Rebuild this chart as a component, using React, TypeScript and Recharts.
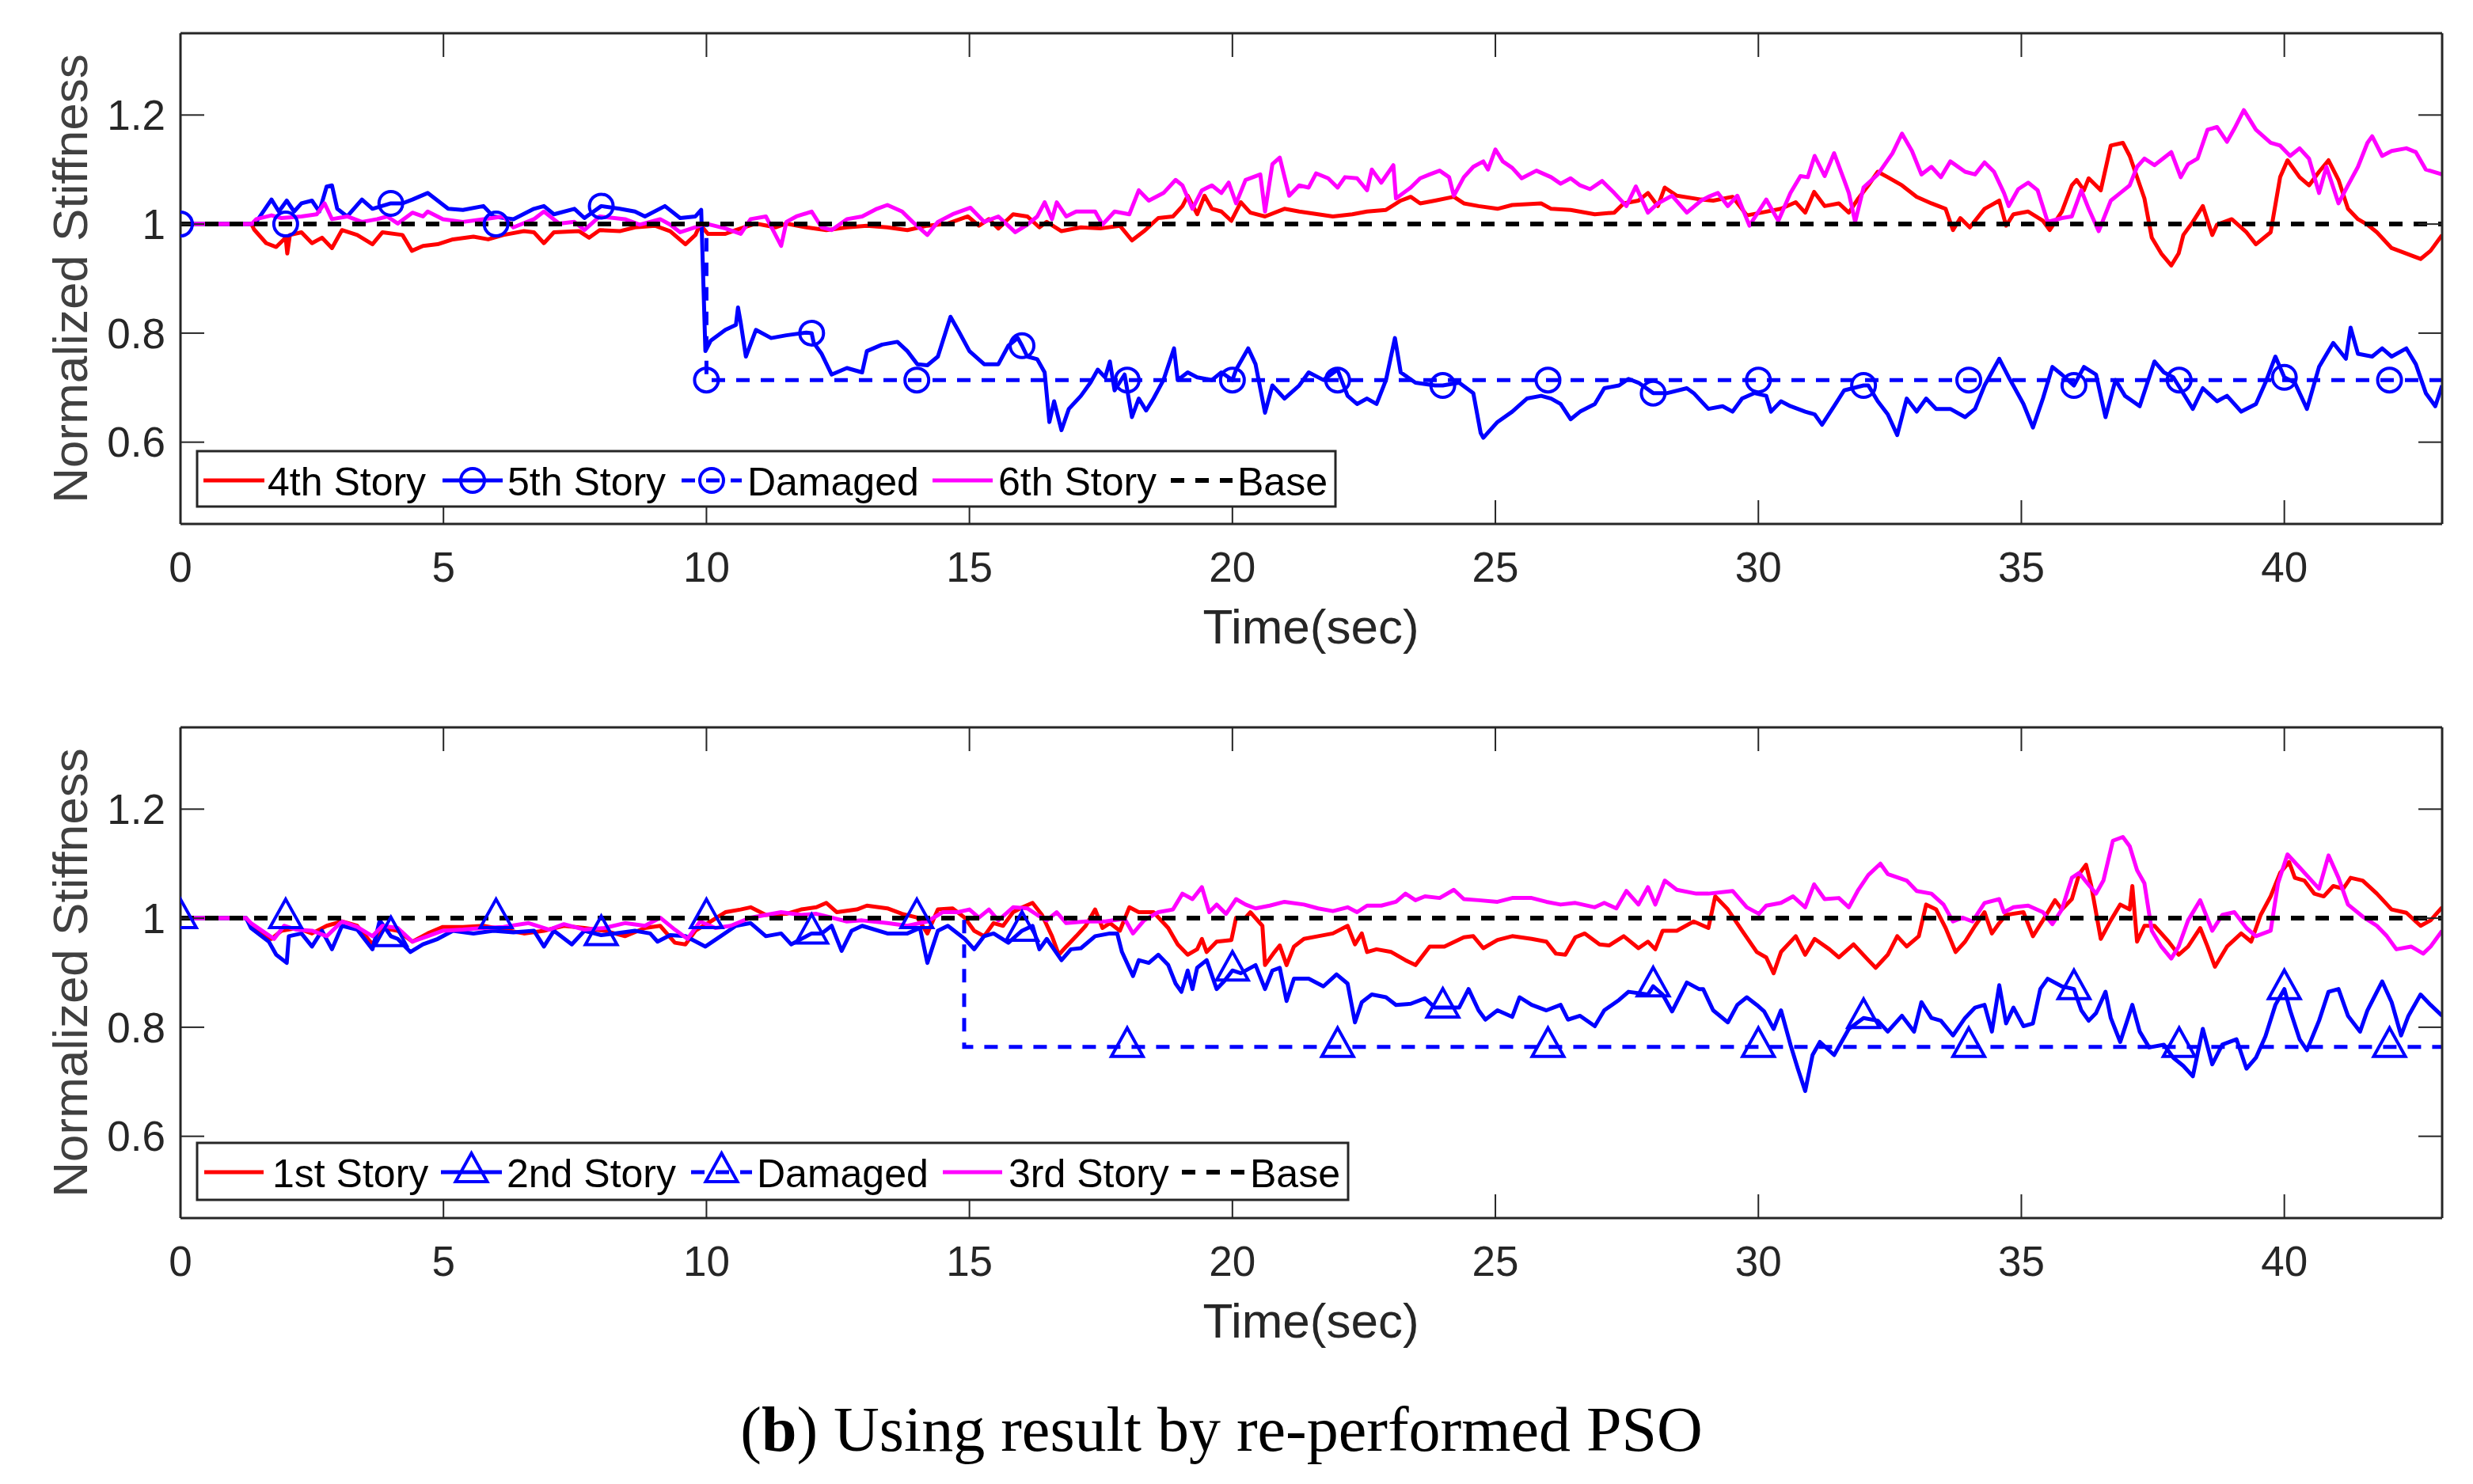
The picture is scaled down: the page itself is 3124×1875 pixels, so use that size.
import React from "react";
import { LineChart, Line, XAxis, YAxis } from "recharts";

type Pt = [number, number];

const timeTicks = [0, 5, 10, 15, 20, 25, 30, 35, 40];
const stiffTicks = [0.6, 0.8, 1, 1.2];

const topLabels = ["4th Story", "5th Story", "Damaged", "6th Story", "Base"];
const bottomLabels = ["1st Story", "2nd Story", "Damaged", "3rd Story", "Base"];

// marker positions (sec)
const storyMarks = [0, 4, 8, 12, 16, 20, 24, 28, 32, 36, 40];
const damagedMarks = [2, 6, 10, 14, 18, 22, 26, 30, 34, 38, 42];

// ---- upper panel ----
const story4: Pt[] = [
  [0, 1], [1.35, 1], [1.4, 0.99], [1.63, 0.965], [1.82, 0.958], [2.0, 0.975], [2.03, 0.946], [2.08, 0.98],
  [2.3, 0.985], [2.5, 0.965], [2.69, 0.975], [2.88, 0.956], [3.07, 0.989], [3.36, 0.98], [3.65, 0.963],
  [3.84, 0.985], [4.22, 0.98], [4.4, 0.951], [4.61, 0.96], [4.89, 0.963], [5.18, 0.972], [5.57, 0.977],
  [5.85, 0.972], [6.14, 0.98], [6.53, 0.987], [6.72, 0.985], [6.91, 0.965], [7.1, 0.985], [7.58, 0.987],
  [7.77, 0.975], [7.97, 0.989], [8.35, 0.987], [8.64, 0.994], [9.02, 0.997], [9.31, 0.987], [9.6, 0.963],
  [9.79, 0.98], [9.88, 0.999], [10.03, 0.982], [10.36, 0.982], [10.56, 0.989], [10.94, 1.001], [11.32, 0.994],
  [11.52, 1.001], [11.9, 0.994], [12.28, 0.989], [12.67, 0.994], [13.05, 0.997], [13.44, 0.994], [13.82, 0.989],
  [14.2, 0.997], [14.59, 1.001], [14.97, 1.014], [15.18, 0.997], [15.37, 1.009], [15.55, 0.992], [15.83, 1.018],
  [16.1, 1.014], [16.33, 0.994], [16.47, 1.004], [16.75, 0.987], [17.12, 0.994], [17.49, 0.992], [17.86, 0.997],
  [18.09, 0.97], [18.32, 0.987], [18.59, 1.011], [18.87, 1.014], [19.05, 1.033], [19.15, 1.052], [19.33, 1.018],
  [19.47, 1.052], [19.61, 1.028], [19.79, 1.023], [19.98, 1.006], [20.16, 1.04], [20.34, 1.021], [20.62, 1.014],
  [20.99, 1.028], [21.27, 1.023], [21.63, 1.018], [21.91, 1.014], [22.28, 1.018], [22.56, 1.023], [22.92, 1.026],
  [23.2, 1.043], [23.39, 1.05], [23.57, 1.038], [23.85, 1.043], [24.21, 1.05], [24.4, 1.038], [24.68, 1.033],
  [25.04, 1.028], [25.32, 1.035], [25.87, 1.038], [26.06, 1.028], [26.43, 1.026], [26.89, 1.018], [27.26, 1.021],
  [27.44, 1.038], [27.72, 1.043], [27.9, 1.057], [28.09, 1.033], [28.22, 1.067], [28.45, 1.052], [28.91, 1.045],
  [29.14, 1.043], [29.51, 1.05], [29.78, 1.016], [30.06, 1.021], [30.43, 1.028], [30.71, 1.04], [30.89, 1.021],
  [31.06, 1.059], [31.26, 1.033], [31.53, 1.038], [31.72, 1.021], [31.9, 1.047], [32.09, 1.071], [32.27, 1.096],
  [32.46, 1.086], [32.73, 1.071], [33.01, 1.05], [33.29, 1.038], [33.56, 1.028], [33.7, 0.989], [33.84, 1.011],
  [34.02, 0.994], [34.3, 1.028], [34.58, 1.043], [34.71, 0.997], [34.85, 1.018], [35.13, 1.023], [35.41, 1.006],
  [35.54, 0.989], [35.77, 1.023], [35.96, 1.071], [36.05, 1.081], [36.19, 1.062], [36.28, 1.084], [36.51, 1.062],
  [36.7, 1.144], [36.93, 1.149], [37.06, 1.125], [37.34, 1.047], [37.48, 0.975], [37.66, 0.946], [37.85, 0.924],
  [37.99, 0.946], [38.08, 0.98], [38.26, 1.004], [38.45, 1.033], [38.63, 0.98], [38.72, 0.999], [39.0, 1.009],
  [39.28, 0.985], [39.46, 0.963], [39.74, 0.985], [39.92, 1.086], [40.06, 1.117], [40.29, 1.086], [40.47, 1.071],
  [40.66, 1.096], [40.84, 1.117], [41.03, 1.081], [41.21, 1.028], [41.4, 1.009], [41.58, 0.999], [41.76, 0.985],
  [42.04, 0.956], [42.32, 0.946], [42.59, 0.936], [42.78, 0.951], [43, 0.98],
];

const story5: Pt[] = [
  [0, 1], [1.35, 1], [1.44, 1.004], [1.73, 1.045], [1.87, 1.023], [2.02, 1.043], [2.16, 1.023], [2.3, 1.038],
  [2.5, 1.043], [2.64, 1.023], [2.78, 1.069], [2.88, 1.071], [2.98, 1.028], [3.17, 1.014], [3.45, 1.045],
  [3.65, 1.028], [4, 1.038], [4.22, 1.038], [4.41, 1.045], [4.7, 1.057], [4.89, 1.043], [5.09, 1.028],
  [5.37, 1.026], [5.76, 1.033], [5.95, 1.014], [6.33, 1.009], [6.72, 1.028], [6.91, 1.033], [7.1, 1.018],
  [7.49, 1.028], [7.68, 1.011], [8, 1.033], [8.35, 1.028], [8.64, 1.023], [8.83, 1.014], [9.21, 1.033],
  [9.5, 1.011], [9.79, 1.014], [9.9, 1.026], [9.98, 0.767], [10.08, 0.786], [10.36, 0.806], [10.56, 0.815],
  [10.6, 0.847], [10.65, 0.82], [10.75, 0.757], [10.94, 0.806], [11.23, 0.791], [11.52, 0.796], [11.9, 0.801],
  [12, 0.8], [12.04, 0.782], [12.19, 0.762], [12.38, 0.724], [12.67, 0.736], [12.96, 0.728], [13.05, 0.767],
  [13.34, 0.779], [13.63, 0.784], [13.82, 0.767], [14.01, 0.743], [14.2, 0.741], [14.4, 0.757], [14.64, 0.83],
  [14.81, 0.801], [15.0, 0.767], [15.28, 0.743], [15.55, 0.743], [15.74, 0.777], [15.92, 0.791], [16, 0.777],
  [16.1, 0.757], [16.29, 0.752], [16.43, 0.728], [16.52, 0.637], [16.61, 0.675], [16.75, 0.622], [16.89, 0.661],
  [17.12, 0.685], [17.3, 0.709], [17.44, 0.733], [17.58, 0.719], [17.67, 0.748], [17.76, 0.695], [17.95, 0.724],
  [18.09, 0.646], [18.22, 0.68], [18.36, 0.658], [18.5, 0.68], [18.69, 0.714], [18.89, 0.772], [18.96, 0.714],
  [19.15, 0.728], [19.33, 0.719], [19.61, 0.714], [19.79, 0.728], [20, 0.714], [20.07, 0.733], [20.3, 0.772],
  [20.44, 0.743], [20.62, 0.654], [20.76, 0.704], [20.99, 0.68], [21.27, 0.704], [21.45, 0.728], [21.73, 0.714],
  [22.0, 0.733], [22.19, 0.685], [22.37, 0.67], [22.56, 0.68], [22.74, 0.67], [22.92, 0.714], [23.09, 0.791],
  [23.2, 0.728], [23.48, 0.709], [23.85, 0.704], [24, 0.704], [24.31, 0.709], [24.58, 0.69], [24.72, 0.617],
  [24.77, 0.608], [25.04, 0.637], [25.32, 0.656], [25.6, 0.68], [25.87, 0.685], [26.06, 0.68], [26.24, 0.67],
  [26.43, 0.642], [26.61, 0.656], [26.89, 0.67], [27.07, 0.699], [27.35, 0.704], [27.53, 0.716], [27.72, 0.709],
  [28, 0.69], [28.27, 0.69], [28.64, 0.699], [28.77, 0.69], [29.05, 0.661], [29.32, 0.666], [29.51, 0.656],
  [29.69, 0.68], [29.92, 0.69], [30.15, 0.685], [30.24, 0.656], [30.43, 0.675], [30.61, 0.666], [30.89, 0.656],
  [31.07, 0.651], [31.21, 0.632], [31.44, 0.666], [31.63, 0.695], [32, 0.704], [32.09, 0.704], [32.27, 0.675],
  [32.46, 0.651], [32.64, 0.613], [32.82, 0.68], [33.01, 0.656], [33.19, 0.68], [33.38, 0.661], [33.65, 0.661],
  [33.93, 0.646], [34.12, 0.661], [34.3, 0.704], [34.58, 0.753], [34.76, 0.719], [35.04, 0.67], [35.22, 0.627],
  [35.41, 0.68], [35.59, 0.738], [35.77, 0.724], [36, 0.704], [36.19, 0.738], [36.42, 0.724], [36.6, 0.646],
  [36.79, 0.714], [36.97, 0.685], [37.25, 0.666], [37.53, 0.748], [37.71, 0.728], [37.89, 0.719], [38.26, 0.661],
  [38.45, 0.699], [38.72, 0.675], [38.91, 0.685], [39.18, 0.656], [39.46, 0.67], [39.64, 0.709], [39.83, 0.757],
  [40, 0.719], [40.2, 0.709], [40.43, 0.661], [40.66, 0.738], [40.93, 0.782], [41.17, 0.753], [41.26, 0.81],
  [41.4, 0.762], [41.67, 0.757], [41.86, 0.772], [42.04, 0.757], [42.32, 0.772], [42.5, 0.743], [42.69, 0.69],
  [42.87, 0.666], [43, 0.704],
];

const damagedUpper: Pt[] = [
  [0, 1], [2, 1], [6, 1], [10, 1], [10, 0.714], [14, 0.714], [18, 0.714], [22, 0.714], [26, 0.714],
  [30, 0.714], [34, 0.714], [38, 0.714], [42, 0.714], [43, 0.714],
];

const story6: Pt[] = [
  [0, 1], [1.35, 1], [1.44, 1.009], [1.73, 1.016], [1.92, 1.011], [2.3, 1.014], [2.59, 1.018], [2.74, 1.038],
  [2.88, 1.009], [3.17, 1.014], [3.45, 1.004], [3.74, 1.009], [3.93, 1.014], [4.13, 1.001], [4.41, 1.021],
  [4.61, 1.014], [4.7, 1.023], [4.99, 1.009], [5.37, 1.004], [5.76, 1.009], [6.14, 1.014], [6.33, 0.994],
  [6.72, 1.009], [6.91, 1.023], [7.2, 1.001], [7.49, 1.004], [7.68, 0.989], [7.97, 1.014], [8.25, 1.011],
  [8.45, 1.009], [8.73, 0.999], [9.12, 1.009], [9.31, 0.999], [9.5, 0.985], [9.79, 0.994], [9.98, 1.001],
  [10.36, 0.992], [10.65, 0.982], [10.84, 1.009], [11.13, 1.014], [11.42, 0.96], [11.52, 1.004], [11.71, 1.014],
  [12.0, 1.023], [12.19, 0.994], [12.38, 0.989], [12.67, 1.009], [12.96, 1.014], [13.24, 1.028], [13.44, 1.035],
  [13.72, 1.023], [13.92, 1.004], [14.2, 0.98], [14.4, 1.004], [14.68, 1.018], [15.02, 1.03], [15.28, 1.004],
  [15.55, 1.014], [15.87, 0.985], [16.1, 0.999], [16.29, 1.014], [16.43, 1.04], [16.57, 1.009], [16.66, 1.04],
  [16.84, 1.014], [17.03, 1.023], [17.39, 1.023], [17.53, 0.999], [17.76, 1.023], [18.04, 1.018], [18.22, 1.062],
  [18.41, 1.043], [18.69, 1.057], [18.92, 1.081], [19.05, 1.071], [19.24, 1.028], [19.42, 1.062], [19.61, 1.071],
  [19.79, 1.057], [19.93, 1.076], [20.07, 1.038], [20.25, 1.081], [20.53, 1.091], [20.62, 1.023], [20.76, 1.11],
  [20.9, 1.122], [21.08, 1.052], [21.27, 1.071], [21.45, 1.067], [21.59, 1.093], [21.82, 1.084], [22.0, 1.067],
  [22.14, 1.086], [22.37, 1.084], [22.56, 1.062], [22.65, 1.1], [22.83, 1.076], [23.06, 1.108], [23.11, 1.047],
  [23.39, 1.067], [23.57, 1.084], [23.75, 1.091], [23.94, 1.098], [24.12, 1.086], [24.21, 1.052], [24.4, 1.086],
  [24.58, 1.105], [24.77, 1.115], [24.86, 1.1], [25.0, 1.137], [25.14, 1.115], [25.32, 1.103], [25.5, 1.084],
  [25.78, 1.098], [26.06, 1.086], [26.24, 1.074], [26.43, 1.084], [26.61, 1.071], [26.8, 1.064], [27.03, 1.079],
  [27.26, 1.057], [27.49, 1.033], [27.67, 1.069], [27.9, 1.021], [28.09, 1.038], [28.36, 1.052], [28.64, 1.021],
  [28.91, 1.043], [29.05, 1.05], [29.23, 1.057], [29.42, 1.033], [29.6, 1.052], [29.83, 0.997], [30.15, 1.045],
  [30.38, 1.006], [30.61, 1.057], [30.8, 1.088], [30.94, 1.086], [31.07, 1.125], [31.26, 1.088], [31.44, 1.13],
  [31.63, 1.081], [31.72, 1.057], [31.84, 1.004], [32.0, 1.067], [32.27, 1.091], [32.55, 1.13], [32.73, 1.166],
  [32.92, 1.134], [33.1, 1.091], [33.29, 1.105], [33.47, 1.086], [33.65, 1.115], [33.93, 1.096], [34.12, 1.091],
  [34.3, 1.113], [34.48, 1.096], [34.67, 1.057], [34.76, 1.033], [34.94, 1.064], [35.13, 1.076], [35.31, 1.062],
  [35.5, 1.004], [35.77, 1.011], [35.96, 1.014], [36.14, 1.062], [36.28, 1.028], [36.47, 0.987], [36.7, 1.043],
  [36.88, 1.057], [37.06, 1.071], [37.2, 1.105], [37.34, 1.12], [37.53, 1.108], [37.85, 1.132], [38.03, 1.086],
  [38.17, 1.11], [38.35, 1.12], [38.54, 1.173], [38.72, 1.178], [38.91, 1.151], [39.05, 1.175], [39.23, 1.209],
  [39.46, 1.173], [39.74, 1.149], [39.92, 1.144], [40.11, 1.125], [40.29, 1.139], [40.47, 1.12], [40.66, 1.057],
  [40.8, 1.105], [41.03, 1.038], [41.21, 1.071], [41.4, 1.105], [41.58, 1.149], [41.67, 1.161], [41.86, 1.125],
  [42.04, 1.134], [42.32, 1.139], [42.5, 1.132], [42.69, 1.1], [43, 1.091],
];

// ---- lower panel ----
const story1: Pt[] = [
  [0, 1], [1.25, 1], [1.34, 0.986], [1.73, 0.962], [1.92, 0.977], [2.21, 0.982], [2.5, 0.972], [2.78, 0.986],
  [3.07, 0.994], [3.36, 0.986], [3.65, 0.952], [3.84, 0.982], [4.13, 0.977], [4.41, 0.957], [4.7, 0.972],
  [4.99, 0.984], [5.37, 0.984], [5.76, 0.986], [6.14, 0.979], [6.53, 0.972], [6.91, 0.977], [7.29, 0.986],
  [7.68, 0.982], [8.06, 0.977], [8.45, 0.967], [8.83, 0.982], [9.12, 0.986], [9.4, 0.955], [9.6, 0.952],
  [9.79, 0.977], [10.08, 0.994], [10.36, 1.011], [10.65, 1.016], [10.84, 1.02], [11.13, 1.006], [11.52, 1.008],
  [11.8, 1.016], [12.09, 1.02], [12.28, 1.028], [12.48, 1.011], [12.86, 1.016], [13.05, 1.023], [13.44, 1.018],
  [13.72, 1.008], [14.01, 1.001], [14.2, 0.972], [14.4, 1.016], [14.68, 1.018], [14.91, 1.001], [15.09, 0.977],
  [15.28, 0.967], [15.46, 0.991], [15.64, 0.986], [15.83, 1.011], [16.01, 1.02], [16.2, 1.028], [16.38, 1.006],
  [16.57, 0.967], [16.7, 0.933], [16.84, 0.948], [17.03, 0.967], [17.21, 0.986], [17.39, 1.016], [17.53, 0.982],
  [17.67, 0.991], [17.86, 0.977], [18.04, 1.02], [18.22, 1.011], [18.5, 1.011], [18.78, 0.982], [18.96, 0.952],
  [19.15, 0.933], [19.33, 0.943], [19.42, 0.962], [19.51, 0.938], [19.7, 0.957], [19.98, 0.96], [20.07, 1.001],
  [20.25, 1.001], [20.34, 1.011], [20.57, 0.986], [20.62, 0.914], [20.8, 0.938], [20.9, 0.95], [21.03, 0.914],
  [21.17, 0.948], [21.36, 0.962], [21.63, 0.967], [21.91, 0.972], [22.19, 0.986], [22.33, 0.952], [22.46, 0.972],
  [22.56, 0.938], [22.74, 0.943], [23.02, 0.938], [23.29, 0.923], [23.48, 0.914], [23.75, 0.948], [24.03, 0.948],
  [24.4, 0.965], [24.58, 0.967], [24.77, 0.945], [25.04, 0.96], [25.32, 0.967], [25.69, 0.962], [25.97, 0.957],
  [26.15, 0.935], [26.33, 0.933], [26.52, 0.965], [26.7, 0.972], [26.98, 0.952], [27.16, 0.95], [27.44, 0.967],
  [27.72, 0.945], [27.9, 0.957], [28.04, 0.943], [28.18, 0.977], [28.45, 0.977], [28.77, 0.994], [29.05, 0.982],
  [29.18, 1.04], [29.42, 1.016], [29.69, 0.977], [29.97, 0.938], [30.15, 0.928], [30.29, 0.899], [30.43, 0.938],
  [30.71, 0.967], [30.89, 0.933], [31.07, 0.962], [31.35, 0.943], [31.53, 0.928], [31.81, 0.952], [32.09, 0.923],
  [32.23, 0.909], [32.46, 0.933], [32.64, 0.967], [32.82, 0.948], [33.05, 0.967], [33.19, 1.025], [33.38, 1.016],
  [33.56, 0.982], [33.75, 0.938], [33.93, 0.957], [34.12, 0.986], [34.3, 1.011], [34.44, 0.972], [34.58, 0.991],
  [34.71, 1.006], [35.04, 1.011], [35.22, 0.967], [35.41, 0.996], [35.64, 1.033], [35.77, 1.016], [35.96, 1.035],
  [36.1, 1.081], [36.23, 1.098], [36.33, 1.059], [36.51, 0.962], [36.7, 0.996], [36.88, 1.025], [37.06, 1.016],
  [37.11, 1.059], [37.2, 0.957], [37.34, 0.986], [37.53, 0.986], [37.8, 0.957], [37.99, 0.933], [38.17, 0.948],
  [38.4, 0.982], [38.54, 0.948], [38.68, 0.911], [38.91, 0.948], [39.18, 0.972], [39.37, 0.957], [39.55, 1.006],
  [39.74, 1.04], [39.92, 1.083], [40.09, 1.103], [40.2, 1.074], [40.38, 1.069], [40.57, 1.045], [40.75, 1.04],
  [40.93, 1.059], [41.12, 1.054], [41.26, 1.074], [41.49, 1.069], [41.76, 1.045], [42.04, 1.016], [42.32, 1.01],
  [42.59, 0.986], [42.78, 0.996], [43, 1.02],
];

const story2: Pt[] = [
  [0, 1], [1.25, 1], [1.34, 0.982], [1.68, 0.957], [1.82, 0.933], [2.02, 0.918], [2.06, 0.967], [2.3, 0.972],
  [2.5, 0.948], [2.69, 0.977], [2.88, 0.943], [3.07, 0.986], [3.36, 0.979], [3.65, 0.943], [3.79, 0.996],
  [4, 0.967], [4.13, 0.962], [4.37, 0.938], [4.61, 0.952], [4.89, 0.962], [5.18, 0.977], [5.57, 0.972],
  [5.95, 0.977], [6.33, 0.974], [6.72, 0.977], [6.91, 0.948], [7.1, 0.977], [7.44, 0.952], [7.68, 0.977],
  [8, 0.969], [8.25, 0.972], [8.64, 0.977], [8.93, 0.972], [9.07, 0.957], [9.31, 0.969], [9.6, 0.967],
  [9.98, 0.948], [10.27, 0.967], [10.56, 0.986], [10.84, 0.991], [11.13, 0.967], [11.42, 0.972], [11.61, 0.952],
  [12, 0.972], [12.19, 0.972], [12.38, 0.986], [12.57, 0.94], [12.76, 0.977], [12.96, 0.986], [13.44, 0.972],
  [13.82, 0.972], [14.06, 0.982], [14.2, 0.918], [14.4, 0.977], [14.59, 0.986], [14.91, 0.962], [15.09, 0.943],
  [15.28, 0.967], [15.46, 0.972], [15.74, 0.955], [16, 0.977], [16.2, 0.986], [16.33, 0.943], [16.47, 0.962],
  [16.57, 0.948], [16.75, 0.923], [16.93, 0.943], [17.12, 0.945], [17.39, 0.967], [17.67, 0.972], [17.81, 0.972],
  [17.9, 0.938], [18.11, 0.894], [18.22, 0.923], [18.41, 0.918], [18.59, 0.933], [18.78, 0.914], [18.92, 0.88],
  [19.03, 0.865], [19.15, 0.904], [19.24, 0.87], [19.33, 0.909], [19.51, 0.923], [19.7, 0.87], [19.84, 0.884],
  [20, 0.904], [20.16, 0.899], [20.44, 0.914], [20.62, 0.87], [20.76, 0.904], [20.9, 0.909], [21.03, 0.848],
  [21.17, 0.889], [21.45, 0.889], [21.73, 0.875], [21.98, 0.897], [22.19, 0.88], [22.33, 0.809], [22.46, 0.846],
  [22.65, 0.86], [22.92, 0.855], [23.11, 0.841], [23.39, 0.843], [23.66, 0.853], [23.85, 0.836], [24, 0.836],
  [24.31, 0.836], [24.49, 0.87], [24.68, 0.831], [24.81, 0.814], [25.04, 0.831], [25.32, 0.819], [25.46, 0.855],
  [25.69, 0.841], [25.97, 0.831], [26.24, 0.841], [26.38, 0.814], [26.61, 0.821], [26.89, 0.802], [27.07, 0.831],
  [27.35, 0.85], [27.53, 0.865], [27.9, 0.86], [28, 0.875], [28.18, 0.86], [28.36, 0.829], [28.64, 0.882],
  [28.87, 0.87], [28.95, 0.87], [29.14, 0.831], [29.42, 0.809], [29.6, 0.841], [29.78, 0.855], [29.97, 0.841],
  [30.11, 0.829], [30.29, 0.797], [30.43, 0.831], [30.61, 0.768], [30.75, 0.724], [30.89, 0.683], [31.03, 0.749],
  [31.17, 0.773], [31.44, 0.749], [31.72, 0.797], [32, 0.817], [32.27, 0.812], [32.46, 0.792], [32.73, 0.821],
  [32.96, 0.792], [33.1, 0.846], [33.29, 0.817], [33.47, 0.812], [33.7, 0.785], [33.93, 0.817], [34.12, 0.836],
  [34.3, 0.841], [34.44, 0.792], [34.58, 0.877], [34.71, 0.807], [34.85, 0.836], [35.04, 0.802], [35.22, 0.807],
  [35.36, 0.87], [35.5, 0.889], [35.77, 0.875], [36, 0.87], [36.14, 0.831], [36.28, 0.812], [36.42, 0.826],
  [36.6, 0.865], [36.7, 0.817], [36.88, 0.773], [37.11, 0.841], [37.25, 0.792], [37.43, 0.763], [37.71, 0.768],
  [37.89, 0.744], [38.08, 0.729], [38.26, 0.71], [38.45, 0.797], [38.63, 0.732], [38.82, 0.768], [39.09, 0.778],
  [39.28, 0.724], [39.46, 0.744], [39.64, 0.783], [39.83, 0.841], [40, 0.87], [40.11, 0.831], [40.29, 0.778],
  [40.43, 0.758], [40.66, 0.812], [40.84, 0.865], [41.03, 0.87], [41.21, 0.821], [41.44, 0.792], [41.58, 0.831],
  [41.86, 0.884], [42.04, 0.846], [42.22, 0.785], [42.36, 0.821], [42.59, 0.86], [42.78, 0.841], [43, 0.821],
];

const damagedLower: Pt[] = [
  [0, 1], [2, 1], [6, 1], [10, 1], [14, 1], [14.9, 1], [14.9, 0.764], [18, 0.764], [22, 0.764], [26, 0.764],
  [30, 0.764], [34, 0.764], [38, 0.764], [42, 0.764], [43, 0.764],
];

const story3: Pt[] = [
  [0, 1], [1.25, 1], [1.34, 0.991], [1.78, 0.962], [1.97, 0.986], [2.21, 0.979], [2.5, 0.977], [2.78, 0.967],
  [3.07, 0.994], [3.36, 0.984], [3.65, 0.967], [3.84, 0.986], [4.13, 0.982], [4.41, 0.957], [4.7, 0.967],
  [4.99, 0.977], [5.37, 0.979], [5.76, 0.982], [6.14, 0.984], [6.62, 0.991], [7.01, 0.979], [7.29, 0.989],
  [7.68, 0.979], [8.06, 0.982], [8.45, 0.991], [8.83, 0.986], [9.12, 1.001], [9.4, 0.979], [9.64, 0.962],
  [9.88, 0.994], [10.17, 0.982], [10.46, 0.986], [10.84, 1.001], [11.13, 1.006], [11.42, 1.011], [11.8, 1.006],
  [12.09, 1.008], [12.38, 1.001], [12.67, 0.994], [12.96, 0.996], [13.44, 0.991], [13.82, 0.986], [14.2, 0.994],
  [14.49, 1.011], [14.78, 1.011], [15.0, 1.016], [15.18, 1.001], [15.37, 1.016], [15.55, 0.996], [15.83, 1.02],
  [16.1, 1.018], [16.29, 1.006], [16.47, 0.996], [16.66, 1.011], [16.84, 0.991], [17.21, 0.994], [17.58, 0.994],
  [17.95, 0.999], [18.11, 0.972], [18.32, 0.996], [18.59, 1.011], [18.87, 1.016], [19.05, 1.045], [19.24, 1.035],
  [19.42, 1.057], [19.56, 1.011], [19.7, 1.025], [19.88, 1.008], [20.07, 1.035], [20.25, 1.025], [20.44, 1.018],
  [20.71, 1.023], [20.99, 1.03], [21.36, 1.025], [21.63, 1.018], [21.91, 1.013], [22.19, 1.02], [22.37, 1.011],
  [22.56, 1.023], [22.83, 1.023], [23.11, 1.03], [23.29, 1.045], [23.48, 1.033], [23.66, 1.04], [23.94, 1.037],
  [24.21, 1.052], [24.4, 1.035], [24.68, 1.033], [25.04, 1.03], [25.32, 1.037], [25.69, 1.037], [25.97, 1.03],
  [26.24, 1.025], [26.52, 1.028], [26.89, 1.02], [27.07, 1.028], [27.3, 1.018], [27.49, 1.05], [27.72, 1.025],
  [27.9, 1.057], [28.04, 1.025], [28.22, 1.069], [28.45, 1.052], [28.82, 1.045], [29.05, 1.045], [29.51, 1.05],
  [29.78, 1.02], [30.01, 1.008], [30.15, 1.023], [30.43, 1.028], [30.66, 1.04], [30.89, 1.02], [31.06, 1.062],
  [31.26, 1.035], [31.53, 1.037], [31.72, 1.02], [31.9, 1.052], [32.09, 1.079], [32.32, 1.1], [32.46, 1.081],
  [32.82, 1.069], [33.01, 1.05], [33.29, 1.045], [33.52, 1.025], [33.7, 0.994], [33.88, 1.001], [34.07, 0.994],
  [34.3, 1.028], [34.58, 1.035], [34.67, 1.011], [34.85, 1.02], [35.13, 1.023], [35.41, 1.011], [35.59, 0.989],
  [35.77, 1.016], [35.96, 1.074], [36.1, 1.083], [36.23, 1.067], [36.42, 1.045], [36.56, 1.069], [36.74, 1.142],
  [36.93, 1.149], [37.06, 1.132], [37.2, 1.088], [37.34, 1.064], [37.48, 0.977], [37.66, 0.948], [37.85, 0.926],
  [37.99, 0.948], [38.17, 0.996], [38.4, 1.033], [38.63, 0.977], [38.82, 1.006], [39.05, 1.011], [39.28, 0.982],
  [39.46, 0.967], [39.74, 0.977], [39.88, 1.064], [40.06, 1.117], [40.29, 1.093], [40.47, 1.074], [40.66, 1.054],
  [40.84, 1.115], [41.03, 1.074], [41.21, 1.025], [41.49, 1.003], [41.76, 0.986], [41.95, 0.967], [42.13, 0.943],
  [42.41, 0.948], [42.64, 0.935], [42.78, 0.948], [43, 0.977],
];

const baseLevel: Pt[] = [[0, 1], [43, 1]];

const FONT = '"Liberation Sans", Arial, Helvetica, sans-serif';
const AX = "#262626";
const RED = "#ff0000";
const BLUE = "#0000ff";
const MAGENTA = "#ff00ff";
const DASH = "17 14";
const LW = 5;

const toRows = (pts: Pt[]) => pts.map(([t, v]) => ({ t, v }));

function Marker({ shape, x, y }: { shape: string; x: number; y: number }) {
  if (shape === "circle") {
    return <circle cx={x} cy={y} r={15} fill="none" stroke={BLUE} strokeWidth={4} strokeDasharray="none" />;
  }
  return (
    <path
      d={`M${x},${y - 24} L${x + 20},${y + 12} L${x - 20},${y + 12} Z`}
      fill="none"
      stroke={BLUE}
      strokeWidth={4}
      strokeDasharray="none"
    />
  );
}

const makeDot = (pts: Pt[], marks: number[], shape: string) => (props: any) => {
  const { cx, cy, index } = props;
  const cur = pts[index];
  const next = pts[index + 1];
  const show = cur && marks.includes(cur[0]) && !(next && next[0] === cur[0]);
  if (!show || cx == null || cy == null) return <g key={`n${index}`} />;
  return (
    <g key={`m${index}`}>
      <Marker shape={shape} x={cx} y={cy} />
    </g>
  );
};

// draws only the tick line, no label (mirrored box ticks)
const NoLabel = () => <g />;

function XTitle() {
  return (
    <text x={1656} y={813} textAnchor="middle" fill={AX} fontSize={62} fontFamily={FONT}>
      Time(sec)
    </text>
  );
}

function YTitle() {
  return (
    <text transform="translate(110,352) rotate(-90)" textAnchor="middle" fill="#404040" fontSize={62} fontFamily={FONT}>
      Normalized Stiffness
    </text>
  );
}

interface PanelProps {
  top: number;
  lower: Pt[];
  mid: Pt[];
  damaged: Pt[];
  upper: Pt[];
  shape: string;
}

function Panel({ top, lower, mid, damaged, upper, shape }: PanelProps) {
  const tickStyle = { fill: AX, fontSize: 53, fontFamily: FONT };
  const axisLine = { stroke: AX, strokeWidth: 3 };
  const tickLine = { stroke: AX, strokeWidth: 2 };
  return (
    <div style={{ position: "absolute", left: 0, top }}>
      <LineChart width={3124} height={840} margin={{ top: 32, right: 29, bottom: 0, left: 128 }}>
        <XAxis
          xAxisId="x"
          type="number"
          dataKey="t"
          domain={[0, 43]}
          ticks={timeTicks}
          interval={0}
          allowDataOverflow
          height={178}
          tickSize={-30}
          tickMargin={65}
          tick={tickStyle}
          axisLine={axisLine}
          tickLine={tickLine}
          label={<XTitle />}
        />
        <XAxis
          xAxisId="xt"
          orientation="top"
          type="number"
          dataKey="t"
          domain={[0, 43]}
          ticks={timeTicks}
          interval={0}
          allowDataOverflow
          height={10}
          tickSize={-30}
          tick={NoLabel}
          axisLine={axisLine}
          tickLine={tickLine}
        />
        <YAxis
          yAxisId="y"
          type="number"
          domain={[0.45, 1.35]}
          ticks={stiffTicks}
          interval={0}
          allowDataOverflow
          width={100}
          tickSize={-30}
          tickMargin={49}
          tick={tickStyle}
          tickFormatter={(v: number) => String(v)}
          axisLine={axisLine}
          tickLine={tickLine}
          label={<YTitle />}
        />
        <YAxis
          yAxisId="yr"
          orientation="right"
          type="number"
          domain={[0.45, 1.35]}
          ticks={stiffTicks}
          interval={0}
          allowDataOverflow
          width={10}
          tickSize={-30}
          tick={NoLabel}
          axisLine={axisLine}
          tickLine={tickLine}
        />
        {/* invisible series binding the mirrored top/right axes */}
        <Line xAxisId="xt" yAxisId="yr" data={toRows(baseLevel)} dataKey="v" stroke="none" strokeWidth={0}
          dot={false} activeDot={false} isAnimationActive={false} legendType="none" />
        <Line xAxisId="x" yAxisId="y" data={toRows(lower)} dataKey="v" stroke={RED} strokeWidth={LW}
          strokeLinejoin="round" dot={false} activeDot={false} isAnimationActive={false} />
        <Line xAxisId="x" yAxisId="y" data={toRows(mid)} dataKey="v" stroke={BLUE} strokeWidth={LW}
          strokeLinejoin="round" dot={makeDot(mid, storyMarks, shape)} activeDot={false} isAnimationActive={false} />
        <Line xAxisId="x" yAxisId="y" data={toRows(damaged)} dataKey="v" stroke={BLUE} strokeWidth={LW}
          strokeDasharray={DASH} dot={makeDot(damaged, damagedMarks, shape)} activeDot={false} isAnimationActive={false} />
        <Line xAxisId="x" yAxisId="y" data={toRows(upper)} dataKey="v" stroke={MAGENTA} strokeWidth={LW}
          strokeLinejoin="round" dot={false} activeDot={false} isAnimationActive={false} />
        <Line xAxisId="x" yAxisId="y" data={toRows(baseLevel)} dataKey="v" stroke="#000" strokeWidth={6}
          strokeDasharray={DASH} dot={false} activeDot={false} isAnimationActive={false} />
      </LineChart>
    </div>
  );
}

interface LegendProps {
  y: number;
  width: number;
  height: number;
  labels: string[];
  samples: number[][];
  textX: number[];
  shape: string;
}

function LegendBox({ y, width, height, labels, samples, textX, shape }: LegendProps) {
  const ly = y + 37;
  const ty = y + 56;
  const colors = [RED, BLUE, BLUE, MAGENTA, "#000"];
  const dashed = [false, false, true, false, true];
  return (
    <g>
      <rect x={249} y={y} width={width} height={height} fill="#fff" stroke={AX} strokeWidth={3} />
      {labels.map((lab, i) => {
        const [a, b] = samples[i];
        return (
          <g key={lab + i}>
            <line x1={a} x2={b} y1={ly} y2={ly} stroke={colors[i]} strokeWidth={i === 4 ? 6 : LW}
              strokeDasharray={dashed[i] ? DASH : undefined} />
            {(i === 1 || i === 2) && <Marker shape={shape} x={(a + b) / 2} y={ly} />}
            <text x={textX[i]} y={ty} fontSize={50} fontFamily={FONT} fill="#000">
              {lab}
            </text>
          </g>
        );
      })}
    </g>
  );
}

export default function App() {
  const offset = 877;
  return (
    <div style={{ position: "absolute", left: 0, top: 0, width: 3124, height: 1875, background: "#fff" }}>
      <Panel top={0} lower={story4} mid={story5} damaged={damagedUpper} upper={story6} shape="circle" />
      <Panel top={offset} lower={story1} mid={story2} damaged={damagedLower} upper={story3} shape="triangle" />
      <svg width={3124} height={1875} style={{ position: "absolute", left: 0, top: 0, pointerEvents: "none" }}>
        <LegendBox
          y={570}
          width={1438}
          height={70}
          labels={topLabels}
          samples={[[257, 334], [559, 635], [861, 937], [1178, 1254], [1479, 1557]]}
          textX={[338, 641, 944, 1261, 1563]}
          shape="circle"
        />
        <LegendBox
          y={1444}
          width={1454}
          height={72}
          labels={bottomLabels}
          samples={[[258, 333], [557, 634], [873, 950], [1191, 1266], [1493, 1573]]}
          textX={[344, 640, 956, 1274, 1579]}
          shape="triangle"
        />
        <text x={1543} y={1833} textAnchor="middle" fontFamily='"Liberation Serif", "Times New Roman", serif' fontSize={80} fill="#000">
          (<tspan fontWeight="bold">b</tspan>) Using result by re-performed PSO
        </text>
      </svg>
    </div>
  );
}
